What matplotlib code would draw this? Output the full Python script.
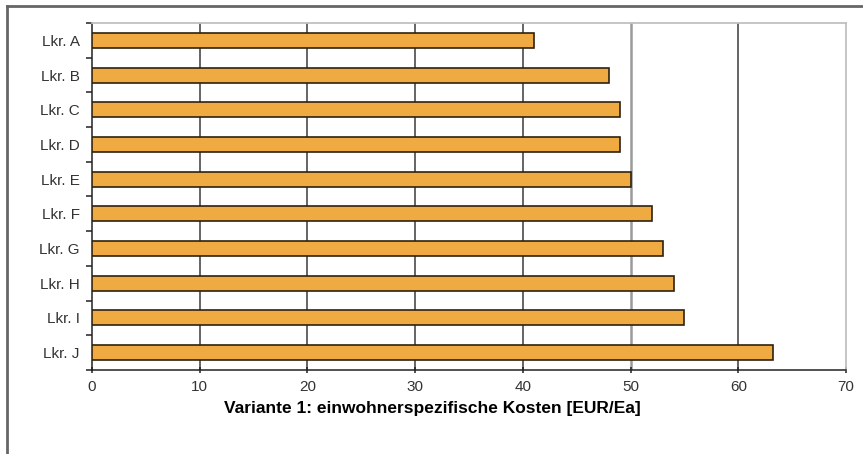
import matplotlib
matplotlib.use("Agg")
import matplotlib.pyplot as plt
import numpy as np

# Kosten je Landkreis
landkreise = ["Lkr. A", "Lkr. B", "Lkr. C", "Lkr. D", "Lkr. E",
              "Lkr. F", "Lkr. G", "Lkr. H", "Lkr. I", "Lkr. J"]
kosten = [41, 48, 49, 49, 50, 52, 53, 54, 55, 63.2]
x_ticks = [0, 10, 20, 30, 40, 50, 60, 70]

plt.rcParams['font.family'] = ['Liberation Sans', 'DejaVu Sans']

fig = plt.figure(figsize=(8.63, 4.54), dpi=100)
ax = fig.add_axes([92 / 863, 1 - 370 / 454, (846 - 92) / 863, (370 - 23) / 454])

pos = np.arange(len(landkreise))
ax.barh(pos, kosten, height=0.43, color="#EFAA42", edgecolor="#2e2210",
        linewidth=1.2, zorder=3)

# Gitterlinien
for xv in x_ticks[1:-1]:
    if xv == 50:
        ax.axvline(xv, color="#9a9a9a", linewidth=1.8, zorder=1)
    else:
        ax.axvline(xv, color="#3a3a3a", linewidth=1.1, zorder=1)

ax.set_xlim(0, 70)
ax.set_ylim(len(landkreise) - 0.5, -0.5)

ax.set_xticks(x_ticks)
ax.set_yticks(pos)
ax.set_yticklabels(landkreise)
ax.set_yticks(np.arange(-0.5, len(landkreise)), minor=True)
ax.tick_params(axis="y", which="major", length=0, pad=9, labelsize=11, labelcolor="#333333")
ax.tick_params(axis="y", which="minor", length=4, width=1.1, color="#222222", direction="out")
ax.tick_params(axis="x", length=4, width=1.1, color="#222222", direction="inout",
               pad=5, labelsize=11, labelcolor="#333333")

for side in ("top", "right"):
    ax.spines[side].set_color("#c0c0c0")
    ax.spines[side].set_linewidth(1.3)
for side in ("left", "bottom"):
    ax.spines[side].set_color("#222222")
    ax.spines[side].set_linewidth(1.1)

# Rahmen oben und links
fig.add_artist(plt.Line2D([7 / 863, 1], [1 - 6 / 454, 1 - 6 / 454],
                          color="#666666", linewidth=2, transform=fig.transFigure))
fig.add_artist(plt.Line2D([7 / 863, 7 / 863], [0, 1 - 6 / 454],
                          color="#666666", linewidth=2, transform=fig.transFigure))

fig.text(432 / 863, 1 - 409 / 454, "Variante 1: einwohnerspezifische Kosten [EUR/Ea]",
         ha="center", va="center", fontsize=12.5, fontweight="bold", color="#000000")

fig.savefig("out.png", dpi=100)
